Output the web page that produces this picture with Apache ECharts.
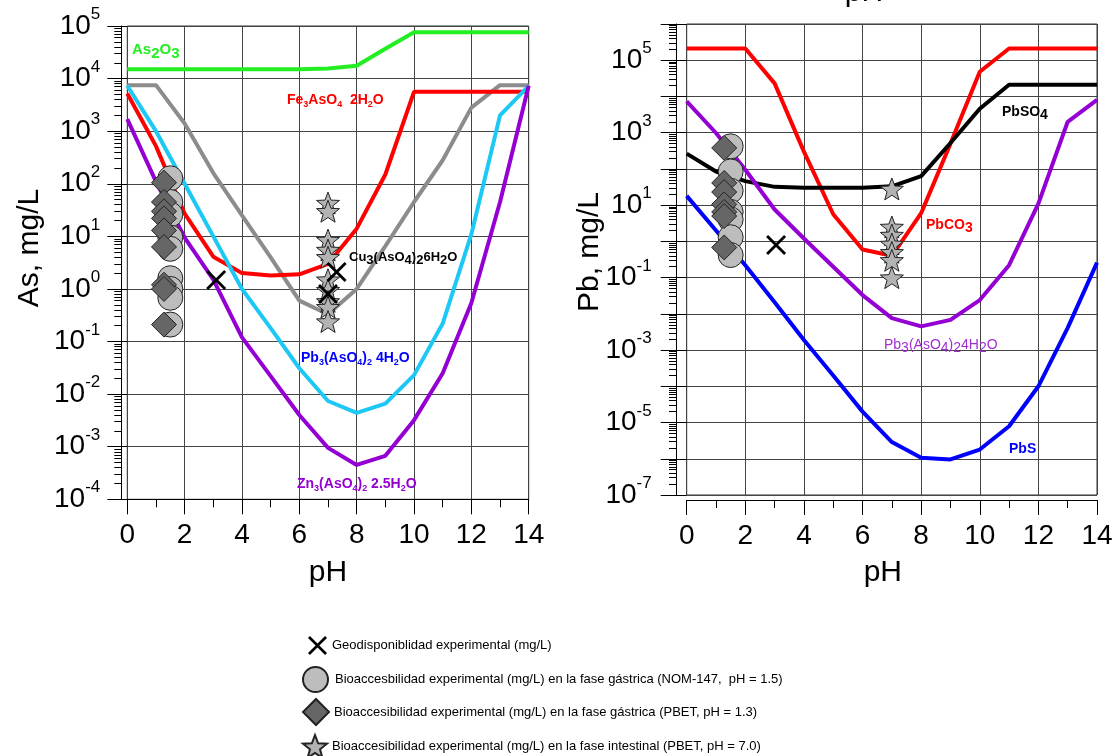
<!DOCTYPE html>
<html>
<head>
<meta charset="utf-8">
<title>Solubilidad de As y Pb vs pH</title>
<script src="https://cdn.jsdelivr.net/npm/echarts@6/dist/echarts.min.js"></script>
<style>
  html, body { margin: 0; padding: 0; background: #fff; }
  #main { width: 1120px; height: 756px; }
</style>
</head>
<body>
<div id="main"></div>
<script type="text/javascript">
// pH de los calculos de equilibrio
var ph = [0, 1, 2, 3, 4, 5, 6, 7, 8, 9, 10, 11, 12, 13, 14];

// As en solucion (mg/L) por fase solida
var asAs2O3 = [1.5e4, 1.5e4, 1.5e4, 1.5e4, 1.5e4, 1.5e4, 1.5e4, 1.55e4, 1.75e4, 3.7e4, 7.6e4, 7.6e4, 7.6e4, 7.6e4, 7.6e4];
var asFe    = [5.2e3, 520, 27, 4.1, 2.0, 1.8, 1.9, 3.0, 14, 150, 5.6e3, 5.6e3, 5.6e3, 5.6e3, 5.6e3];
var asCu    = [7.5e3, 7.5e3, 1.4e3, 160, 25, 4, 0.6, 0.33, 1.0, 6.5, 45, 280, 2.8e3, 7.5e3, 7.5e3];
var asPb    = [7.3e3, 1000, 100, 10, 1.0, 0.18, 0.031, 7.4e-3, 4.4e-3, 6.6e-3, 0.023, 0.22, 11, 2e3, 7.3e3];
var asZn    = [1.7e3, 110, 9.5, 1.5, 0.12, 0.022, 4e-3, 9.5e-4, 4.5e-4, 6.7e-4, 3.2e-3, 0.025, 0.54, 45, 7.3e3];

// Pb en solucion (mg/L) por fase solida
var pbCO3   = [2.1e5, 2.1e5, 2.1e5, 2.3e4, 300, 5.6, 0.6, 0.4, 6, 500, 4.8e4, 2.1e5, 2.1e5, 2.1e5, 2.1e5];
var pbSO4   = [265, 85, 46, 32, 30, 30, 30, 33, 63, 520, 4.6e3, 2.1e4, 2.1e4, 2.1e4, 2.1e4];
var pbAsO4  = [7.3e3, 980, 95, 7.6, 1.2, 0.2, 0.033, 7.6e-3, 4.5e-3, 6.8e-3, 0.024, 0.22, 11, 2e3, 8e3];
var pbS     = [18, 2, 0.22, 0.021, 1.9e-3, 2e-4, 2e-5, 2.9e-6, 1.07e-6, 9.6e-7, 1.8e-6, 7.9e-6, 1e-4, 4.1e-3, 0.26];

// datos experimentales, As
var asGeoPh = [3.1, 7.3, 7.0];
var asGeo   = [1.48, 2.1, 0.8];
var asNomPh = [1.5, 1.5, 1.5, 1.5, 1.5, 1.5, 1.5, 1.5, 1.5];
var asNom   = [127, 45, 26, 9.5, 5.8, 1.6, 1.0, 0.68, 0.21];
var asPbgPh = [1.28, 1.28, 1.28, 1.28, 1.28, 1.28, 1.28, 1.28, 1.28];
var asPbg   = [105, 45, 30, 22, 13, 6.3, 1.2, 1.0, 0.21];
var asPbiPh = [7, 7, 7, 7, 7, 7, 7, 7, 7, 7];
var asPbi   = [43, 30, 8.5, 5.5, 4.0, 1.5, 0.95, 0.58, 0.45, 0.24];

// datos experimentales, Pb
var pbGeoPh = [3.05];
var pbGeo   = [0.8];
var pbNomPh = [1.5, 1.5, 1.5, 1.5, 1.5, 1.5, 1.5];
var pbNom   = [420, 85, 25, 6.5, 4, 1.3, 0.42];
var pbPbgPh = [1.28, 1.28, 1.28, 1.28, 1.28, 1.28, 1.28];
var pbPbg   = [380, 41, 23, 10.5, 6.5, 5, 0.68];
var pbPbiPh = [7, 7, 7, 7, 7, 7, 7];
var pbPbi   = [28, 2.5, 1.5, 0.85, 0.5, 0.3, 0.1];

// exponentes de las marcas de los ejes
var asDecades = [-4, -3, -2, -1, 0, 1, 2, 3, 4, 5];
var pbDecades = [-7, -6, -5, -4, -3, -2, -1, 0, 1, 2, 3, 4, 5, 6];

var NAME_GEO = 'Geodisponiblidad experimental (mg/L)';
var NAME_NOM = 'Bioaccesbilidad experimental (mg/L) en la fase gástrica (NOM-147,  pH = 1.5)';
var NAME_PBG = 'Bioaccesibilidad experimental (mg/L) en la fase gástrica (PBET, pH = 1.3)';
var NAME_PBI = 'Bioaccesibilidad experimental (mg/L) en la fase intestinal (PBET, pH = 7.0)';

var FONT = "'Liberation Sans', Arial, sans-serif";
var X_ICON = 'path://M2,0L10,8L18,0L20,2L12,10L20,18L18,20L10,12L2,20L0,18L8,10L0,2Z';
var STAR_ICON = 'path://M10,0L12.47,6.6L19.51,6.91L13.99,11.3L15.88,18.09L10,14.2L4.12,18.09L6.01,11.3L0.49,6.91L7.53,6.6Z';

function pairs(xs, ys) {
    return xs.map(function (x, i) { return [x, ys[i]]; });
}

// marcas menores 2..9 en cada decada
function minorTicks(decades) {
    var out = [];
    for (var i = 0; i < decades.length - 1; i++) {
        for (var k = 2; k <= 9; k++) out.push(decades[i] + Math.log10(k));
    }
    return out;
}

var supRich = {
    b: { fontSize: 28, fontFamily: FONT, color: '#000', lineHeight: 40 },
    s: { fontSize: 17, fontFamily: FONT, color: '#000', lineHeight: 17, verticalAlign: 'top' }
};
function supLabel(v) { return '{b|10}{s|' + v + '}'; }
function supLabelOdd(v) { return Math.abs(v) % 2 === 1 ? supLabel(v) : ''; }

function curve(name, xi, yi, data, color) {
    return {
        name: name, type: 'line', xAxisIndex: xi, yAxisIndex: yi,
        data: pairs(ph, data), symbol: 'none', z: 2,
        lineStyle: { color: color, width: 4 }
    };
}
function points(name, xi, yi, xs, ys, symbol, size, fill, z) {
    return {
        name: name, type: 'scatter', xAxisIndex: xi, yAxisIndex: yi,
        data: pairs(xs, ys), symbol: symbol, symbolSize: size, symbolKeepAspect: true, z: z,
        itemStyle: { color: fill, borderColor: '#222', borderWidth: symbol === X_ICON ? 0 : 1, opacity: 1 }
    };
}

// etiquetas de las curvas
function lbl(x, y, text, color, weight, size, subSize, subLh, lh) {
    return {
        type: 'text', x: x, y: y, z: 50,
        style: {
            text: text, fill: color, fontSize: size, fontWeight: weight, fontFamily: FONT,
            verticalAlign: 'middle', lineHeight: lh,
            rich: { s: { fontSize: subSize, fontWeight: weight, fontFamily: FONT, fill: color, lineHeight: subLh, verticalAlign: 'bottom' } }
        }
    };
}

function xAxisCfg(gi, offset, nameShift) {
    return {
        gridIndex: gi, type: 'value', position: 'bottom', min: 0, max: 14, interval: 2, offset: offset,
        axisLine: { show: true, onZero: false, lineStyle: { color: '#000', width: 1 } },
        axisTick: { show: true, length: 15, lineStyle: { color: '#000' } },
        minorTick: { show: true, splitNumber: 2, length: 8, lineStyle: { color: '#000' } },
        splitLine: { show: true, lineStyle: { color: '#444', width: 1 } },
        axisLabel: { fontSize: 28, color: '#000', fontFamily: FONT, margin: 22 },
        name: 'pH', nameLocation: 'middle', nameGap: 58,
        nameTextStyle: { fontSize: 30, color: '#000', fontFamily: FONT, padding: [0, nameShift, 0, 0] }
    };
}

function majorAxis(gi, decades, fmt, tickLen, margin) {
    return {
        gridIndex: gi, type: 'value', position: 'left',
        min: decades[0], max: decades[decades.length - 1], interval: 1,
        axisLine: { show: false, onZero: false },
        axisTick: { show: true, length: tickLen, lineStyle: { color: '#000' } },
        splitLine: { show: true, lineStyle: { color: '#444', width: 1 } },
        axisLabel: { formatter: fmt, rich: supRich, margin: margin, align: 'right' }
    };
}
function minorAxis(gi, decades, offset) {
    return {
        gridIndex: gi, type: 'value', position: 'left', offset: offset,
        min: decades[0], max: decades[decades.length - 1],
        axisLine: { show: true, onZero: false, lineStyle: { color: '#000' } },
        axisTick: { show: true, length: 7, customValues: minorTicks(decades), lineStyle: { color: '#000' } },
        axisLabel: { show: false },
        splitLine: { show: false }
    };
}

var myChart = echarts.init(document.getElementById('main'), null, { renderer: 'canvas' });

var option = {
    animation: false,
    backgroundColor: '#fff',
    textStyle: { fontFamily: FONT },
    grid: [
        { left: 127.3, top: 26, width: 401.4, height: 473.3, show: true, borderColor: '#333', borderWidth: 1 },
        { left: 686.7, top: 24, width: 410.3, height: 471, show: true, borderColor: '#333', borderWidth: 1 }
    ],
    xAxis: [xAxisCfg(0, 0, 0), xAxisCfg(1, 5, 18)],
    yAxis: [
        { gridIndex: 0, type: 'log', logBase: 10, min: 1e-4, max: 1e5, position: 'left', show: false },
        majorAxis(0, asDecades, supLabel, 20, 27),
        minorAxis(0, asDecades, 6),
        { gridIndex: 1, type: 'log', logBase: 10, min: 1e-7, max: 1e6, position: 'left', show: false },
        majorAxis(1, pbDecades, supLabelOdd, 26, 35),
        minorAxis(1, pbDecades, 10.7)
    ],
    legend: [
        { data: [NAME_GEO], icon: X_ICON, left: 303, top: 631, itemWidth: 19, itemHeight: 19, pad: 0 },
        { data: [NAME_NOM], icon: 'circle', left: 297, top: 661, itemWidth: 25, itemHeight: 25, pad: 2 },
        { data: [NAME_PBG], icon: 'diamond', left: 297, top: 693, itemWidth: 26, itemHeight: 26, pad: 0 },
        { data: [NAME_PBI], icon: STAR_ICON, left: 297, top: 729, itemWidth: 24, itemHeight: 24, pad: 0 }
    ].map(function (l) {
        l.selectedMode = false;
        l.textStyle = { fontSize: 13, color: '#000', fontFamily: FONT, padding: [0, 0, 0, l.pad] };
        delete l.pad;
        return l;
    }),
    graphic: {
        elements: [
            { type: 'text', x: 30, y: 248, rotation: Math.PI / 2,
              style: { text: 'As, mg/L', fontSize: 30, fontFamily: FONT, fill: '#000', align: 'center', verticalAlign: 'middle' } },
            { type: 'text', x: 590, y: 252, rotation: Math.PI / 2,
              style: { text: 'Pb, mg/L', fontSize: 30, fontFamily: FONT, fill: '#000', align: 'center', verticalAlign: 'middle' } },
            { type: 'text', x: 864, y: 8,
              style: { text: 'pH', fontSize: 30, fontFamily: FONT, fill: '#000', align: 'center', verticalAlign: 'bottom' } },
            lbl(132, 50, 'As{s|2}O{s|3}', '#22ee22', 'bold', 15, 15, 15, 23),
            lbl(287, 100, 'Fe{s|3}AsO{s|4}  2H{s|2}O', '#ff0000', 'bold', 14, 9, 9, 18),
            lbl(349, 257, 'Cu{s|3}(AsO{s|4}){s|2}6H{s|2}O', '#000', 'bold', 13, 13, 13, 20),
            lbl(301, 358, 'Pb{s|3}(AsO{s|4}){s|2} 4H{s|2}O', '#0000ff', 'bold', 14, 9, 9, 18),
            lbl(297, 484, 'Zn{s|3}(AsO{s|4}){s|2} 2.5H{s|2}O', '#9400d3', 'bold', 14, 9, 9, 18),
            lbl(1002, 112, 'PbSO{s|4}', '#000', 'bold', 14, 14, 14, 21),
            lbl(926, 225, 'PbCO{s|3}', '#ff0000', 'bold', 14, 14, 14, 21),
            lbl(884, 345, 'Pb{s|3}(AsO{s|4}){s|2}4H{s|2}O', '#a030d0', 'normal', 14, 14, 14, 21),
            lbl(1009, 449, 'PbS', '#0000ff', 'bold', 14, 14, 14, 21)
        ]
    },
    series: [
        curve('As2O3', 0, 0, asAs2O3, '#22ee22'),
        curve('Cu3(AsO4)2 6H2O', 0, 0, asCu, '#8c8c8c'),
        curve('Fe3AsO4 2H2O', 0, 0, asFe, '#ff0000'),
        curve('Pb3(AsO4)2 4H2O', 0, 0, asPb, '#1ec8f5'),
        curve('Zn3(AsO4)2 2.5H2O', 0, 0, asZn, '#9400d3'),
        points(NAME_NOM, 0, 0, asNomPh, asNom, 'circle', 25, '#bdbdbd', 3),
        points(NAME_PBG, 0, 0, asPbgPh, asPbg, 'diamond', 25, '#666666', 4),
        points(NAME_PBI, 0, 0, asPbiPh, asPbi, STAR_ICON, 23, '#b3b3b3', 5),
        points(NAME_GEO, 0, 0, asGeoPh, asGeo, X_ICON, 20, '#000', 6),

        curve('PbCO3', 1, 3, pbCO3, '#ff0000'),
        curve('PbSO4', 1, 3, pbSO4, '#000000'),
        curve('Pb3(AsO4)2 4H2O (Pb)', 1, 3, pbAsO4, '#9400d3'),
        curve('PbS', 1, 3, pbS, '#0000ff'),
        points(NAME_NOM, 1, 3, pbNomPh, pbNom, 'circle', 25, '#bdbdbd', 3),
        points(NAME_PBG, 1, 3, pbPbgPh, pbPbg, 'diamond', 25, '#666666', 4),
        points(NAME_PBI, 1, 3, pbPbiPh, pbPbi, STAR_ICON, 23, '#b3b3b3', 5),
        points(NAME_GEO, 1, 3, pbGeoPh, pbGeo, X_ICON, 20, '#000', 6)
    ]
};

myChart.setOption(option);
</script>
</body>
</html>
